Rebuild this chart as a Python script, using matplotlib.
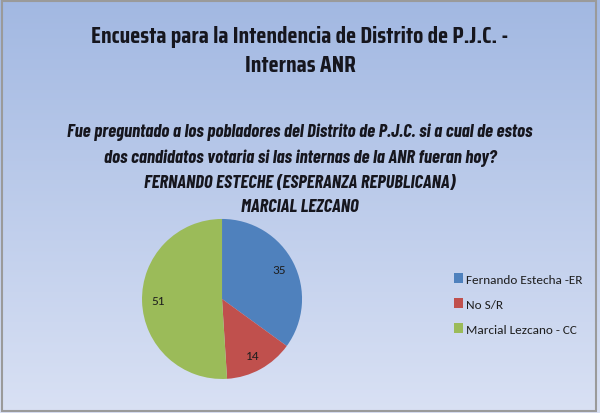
import numpy as np
import matplotlib.pyplot as plt
from matplotlib.patches import Rectangle

# data
labels = ['Fernando Estecha -ER', 'No S/R', 'Marcial Lezcano - CC']
values = [35, 14, 51]
colors = ['#4f81bd', '#c0504d', '#9bbb59']

title = "Encuesta para la Intendencia de Distrito de P.J.C. -\nInternas ANR"
subtitle = ("Fue preguntado a los pobladores del Distrito de P.J.C. si a cual de estos\n"
            "dos candidatos votaria si las internas de la ANR fueran hoy?\n"
            "FERNANDO ESTECHE (ESPERANZA REPUBLICANA)\n"
            "MARCIAL LEZCANO")

head_font = ['Saira Condensed', 'Barlow Condensed', 'DejaVu Sans']
sub_font = ['Barlow Condensed', 'DejaVu Sans']
body_font = ['Carlito', 'Lato', 'DejaVu Sans']

fig = plt.figure(figsize=(6, 4.14), dpi=100)

# gradient background
bg = fig.add_axes([0, 0, 1, 1])
grad = np.linspace(0, 1, 256).reshape(-1, 1)
top = np.array([0.635, 0.722, 0.886])
bot = np.array([0.851, 0.882, 0.957])
img = top + (bot - top) * grad[:, :, None]
bg.imshow(img, aspect='auto', extent=[0, 1, 0, 1], origin='upper')
bg.add_patch(Rectangle((0.004, 0.006), 0.99, 0.989, fill=False,
                       edgecolor='#9a9a9a', lw=1.5, transform=bg.transAxes))
bg.set_xlim(0, 1)
bg.set_ylim(0, 1)
bg.axis('off')

fig.text(0.5, 1 - 51.5 / 414, title, ha='center', va='center', fontsize=17,
         fontweight='bold', family=head_font, color='#16161e', linespacing=1.42)
fig.text(0.5, 1 - 170 / 414, subtitle, ha='center', va='center', fontsize=13.4,
         fontweight='bold', style='italic', family=sub_font, color='#16161e',
         linespacing=1.6)

# pie
ax = fig.add_axes([0.2367, 0.0822, 0.2667, 0.3865])
vals = iter(values)
wedges, _, autotexts = ax.pie(values, colors=colors, startangle=90, counterclock=False,
                              autopct=lambda p: f'{next(vals)}', pctdistance=0.8,
                              textprops=dict(fontsize=9.5, family=body_font,
                                             color='#1e1e1e'))
ax.set_xlim(-1, 1)
ax.set_ylim(-1, 1)
ax.set_aspect('equal')

fig.legend(wedges, labels, loc='center left', bbox_to_anchor=(442 / 600, 1 - 305 / 414),
           frameon=False, handlelength=0.7, handleheight=0.7, handletextpad=0.2,
           labelspacing=1.05, prop=dict(family=body_font, size=9.5),
           labelcolor='#1e1e1e')

fig.savefig('out.png', dpi=100)
